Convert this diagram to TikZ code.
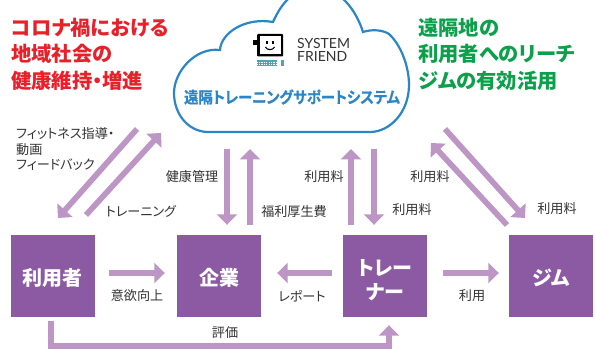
\documentclass[tikz,border=0pt]{standalone}
\usepackage{fontspec}
\setmainfont{Noto Sans CJK JP}[RawFeature=+palt]
\newfontfamily\titlef{Noto Sans CJK JP}[BoldFont={* Bold},BoldFeatures={FakeBold=0.6},RawFeature=+palt]
\newfontfamily\latinf{Lato}
\usetikzlibrary{arrows.meta}
\definecolor{boxp}{HTML}{8C5AA3}
\definecolor{arrp}{HTML}{BD96C6}
\definecolor{cloudb}{HTML}{2A86C6}
\definecolor{redt}{HTML}{E8202A}
\definecolor{greent}{HTML}{0BA14B}
\definecolor{txt}{HTML}{333333}
\definecolor{keyb}{HTML}{4FA5B8}
\tikzset{
  actor/.style={fill=boxp,text=white,minimum width=84pt,minimum height=82pt,inner sep=0pt},
  actortext/.style={text=white,inner sep=0pt,font=\fontsize{20}{24}\selectfont\bfseries,align=center},
  flow/.style={draw=arrp,line width=5.7pt,-{Triangle[width=20pt,length=10.5pt]}},
  lab/.style={text=txt,font=\fontsize{13.1}{15.7}\selectfont,inner sep=0pt,align=left},
  head/.style={font=\fontsize{20.3}{26.8}\selectfont\bfseries,align=left,inner sep=0pt,anchor=north west},
}
\begin{document}
\begin{tikzpicture}[x=1pt,y=-1pt]
\useasboundingbox (0,0) rectangle (595,350);
\fill[white] (0,0) rectangle (595,350);
% cloud
\begin{scope}
\clip (0,0) rectangle (595,350);
\draw[cloudb,line width=2.2pt] (207,132)
  .. controls (187,131) and (174,113) .. (174,93)
  .. controls (174,72) and (195,47) .. (220,50)
  .. controls (221,33) and (245,17) .. (273,22)
  .. controls (279,9) and (290,-12) .. (316,-12)
  .. controls (340,-12) and (356,10) .. (363,32)
  .. controls (372,29) and (383,30) .. (389,34)
  .. controls (400,44) and (409,65) .. (409,85)
  .. controls (409,112) and (390,132) .. (370,132) -- cycle;
\end{scope}
% logo
\fill[black,rounded corners=1pt] (257,34) rectangle (283,56.5);
\fill[white] (259.5,36.5) rectangle (280.5,54);
\fill[black] (252.5,40) rectangle (258,45);
\fill[black] (266,41) rectangle (267.6,44.5);
\fill[black] (272.4,41) rectangle (274,44.5);
\draw[black,line width=1.1pt] (265.5,47) .. controls (267,50.5) and (273,50.5) .. (274.5,47);
\fill[keyb] (256.5,60) rectangle (276.5,66);
\fill[keyb] (281,60) rectangle (284,66);
\draw[white,line width=.5pt,dash pattern=on 1.2pt off 1.2pt] (256.5,62) -- (276.5,62);
\draw[white,line width=.5pt,dash pattern=on 1.2pt off 1.2pt] (256.5,64) -- (276.5,64);
\node[inner sep=0pt,anchor=west,font=\latinf\fontsize{14}{13}\selectfont,text=black!80,align=left] (brand) at (297,50) {SYSTEM\\FRIEND};
\node[inner sep=0pt,text=cloudb,font=\titlef\fontsize{16}{18}\selectfont\bfseries,xscale=0.9] (title) at (292,97) {遠隔トレーニングサポートシステム};
% headings
\node[head,text=redt] (h1) at (11,17.5) {コロナ禍における\\地域社会の\\健康維持・増進};
\node[head,text=greent] (h2) at (418,17.5) {遠隔地の\\利用者へのリーチ\\ジムの有効活用};
% actors
\node[actor] (user) at (53,276) {};
\node[actor] (corp) at (219,276) {};
\node[actor] (trainer) at (385,276) {};
\node[actor] (gym) at (551,276) {};
\node[actortext] (tuser) at (53,278) {利用者};
\node[actortext] (tcorp) at (219,278) {企業};
\node[actortext] (ttrainer) at (385,280) {トレー\\ナー};
\node[actortext] (tgym) at (551,278) {ジム};
% free ends near the cloud
\coordinate (a1s) at (137,129); \coordinate (a1e) at (58,218);
\coordinate (a2s) at (86,215);  \coordinate (a2e) at (161,133);
\coordinate (a3s) at (445,129); \coordinate (a3e) at (525,218);
\coordinate (a4s) at (507,225); \coordinate (a4e) at (431,143);
\draw[flow] (a1s) -- (a1e);
\draw[flow] (a2s) -- (a2e);
\draw[flow] (a3s) -- (a3e);
\draw[flow] (a4s) -- (a4e);
\coordinate (b1) at (227,149); \coordinate (b2) at (250,149);
\coordinate (b3) at (351,149); \coordinate (b4) at (374,149);
\draw[flow] (b1) -- ([xshift=8pt,yshift=10pt]corp.north);
\draw[flow] ([xshift=31pt,yshift=10pt]corp.north) -- (b2);
\draw[flow] ([xshift=-34pt,yshift=10pt]trainer.north) -- (b3);
\draw[flow] (b4) -- ([xshift=-11pt,yshift=10pt]trainer.north);
\draw[flow] ([xshift=14pt,yshift=3pt]user.east) -- ([xshift=-12pt,yshift=3pt]corp.west);
\draw[flow] ([xshift=-11pt,yshift=3pt]trainer.west) -- ([xshift=16pt,yshift=3pt]corp.east);
\draw[flow] ([xshift=16pt,yshift=3pt]trainer.east) -- ([xshift=-10pt,yshift=3pt]gym.west);
\draw[flow] ([xshift=-2pt,yshift=-4pt]user.south) -- ++(0,25) -| ([xshift=4pt,yshift=-8pt]trainer.south);
% labels
\node[lab,anchor=west] (l1) at (16,149) {フィットネス指導・\\動画\\フィードバック};
\node[lab] (l2) at (141,211) {トレーニング};
\node[lab] (l3) at (192,177) {健康管理};
\node[lab] (l4) at (294,212) {福利厚生費};
\node[lab] (l5) at (324,177) {利用料};
\node[lab] (l6) at (412,210) {利用料};
\node[lab] (l7) at (430,177) {利用料};
\node[lab] (l8) at (557,208.5) {利用料};
\node[lab] (l9) at (137,296) {意欲向上};
\node[lab] (l10) at (302,296) {レポート};
\node[lab] (l11) at (472,296) {利用};
\node[lab] (l12) at (225,333) {評価};
\end{tikzpicture}
\end{document}
